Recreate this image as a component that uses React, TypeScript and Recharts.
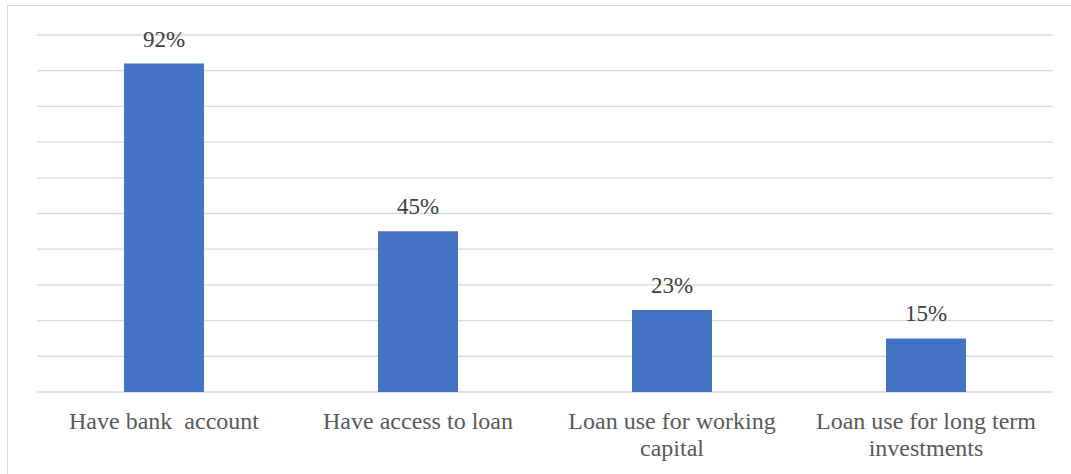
import React from 'react';
import { BarChart, Bar, XAxis, YAxis, CartesianGrid, LabelList } from 'recharts';

const categories = ['Have bank  account', 'Have access to loan', 'Loan use for working\ncapital', 'Loan use for long term\ninvestments'];
const values = [0.92, 0.45, 0.23, 0.15];
const valueLabels = ['92%', '45%', '23%', '15%'];
const yTicks = [0, 0.1, 0.2, 0.3, 0.4, 0.5, 0.6, 0.7, 0.8, 0.9, 1];

const data = categories.map((c, i) => ({ name: c, value: values[i], label: valueLabels[i] }));

const FONT = "'Liberation Serif', 'Times New Roman', serif";

const Tick = (props: any) => {
  const { x, y, payload } = props;
  const lines = String(payload.value).split('\n');
  return (
    <g>
      {lines.map((l: string, i: number) => (
        <text key={i} x={x} y={y + 37 + i * 27} textAnchor="middle" fill="#595959"
          style={{ whiteSpace: 'pre', fontFamily: FONT, fontSize: 24 }}>{l}</text>
      ))}
    </g>
  );
};

const ValueLabel = (props: any) => {
  const { x, y, width, index } = props;
  return (
    <text x={x + width / 2} y={y - 17} textAnchor="middle" fill="#404040" style={{ fontFamily: FONT, fontSize: 23 }}>
      {valueLabels[index]}
    </text>
  );
};

export default function App() {
  return (
    <div style={{ position: 'absolute', left: 0, top: 0, width: 1071, height: 474, background: '#fff', overflow: 'hidden' }}>
      <div style={{ position: 'absolute', left: 7, top: 5, width: 1071, height: 480, borderLeft: '1px solid #d9d9d9', borderTop: '1px solid #d9d9d9' }} />
      <div style={{ position: 'absolute', left: 0, top: 0 }}>
        <BarChart width={1071} height={474} data={data} margin={{ top: 35, right: 18, bottom: 0, left: 37 }}>
          <CartesianGrid vertical={false} stroke="#d9d9d9" strokeWidth={1.3} />
          <YAxis hide width={0} domain={[0, 1]} ticks={yTicks} />
          <XAxis dataKey="name" height={82} axisLine={false} tickLine={false} tickSize={0} tickMargin={0} tick={<Tick />} interval={0} />
          <Bar dataKey="value" fill="#4472C4" barSize={80} isAnimationActive={false}>
            <LabelList dataKey="label" content={<ValueLabel />} />
          </Bar>
        </BarChart>
      </div>
    </div>
  );
}
